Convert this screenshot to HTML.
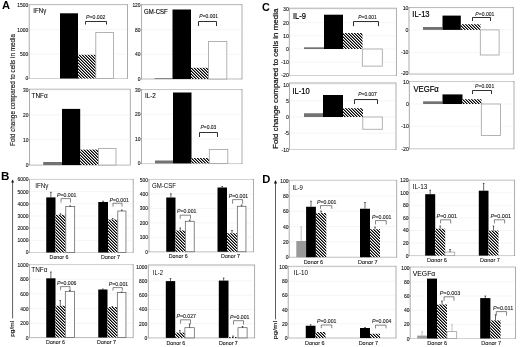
<!DOCTYPE html>
<html><head><meta charset="utf-8"><style>
html,body{margin:0;padding:0;background:#fff;}
svg{display:block;font-family:"Liberation Sans", sans-serif;filter:grayscale(1);}
</style></head><body>
<svg width="520" height="347" viewBox="0 0 520 347">
<defs>
<pattern id="hatch" patternUnits="userSpaceOnUse" width="3" height="3">
<rect width="3" height="3" fill="#fff"/>
<rect x="0" y="0" width="1" height="1" fill="#000"/><rect x="1" y="1" width="1" height="1" fill="#000"/><rect x="2" y="2" width="1" height="1" fill="#000"/>
<rect x="1" y="0" width="1" height="1" fill="#777"/><rect x="2" y="1" width="1" height="1" fill="#777"/><rect x="0" y="2" width="1" height="1" fill="#777"/>
</pattern>
</defs>
<rect width="520" height="347" fill="#fff"/>
<text x="1.9" y="9.1" font-size="11.2" text-anchor="start" font-weight="bold" fill="#000" >A</text>
<text x="0.9" y="179.9" font-size="11.6" text-anchor="start" font-weight="bold" fill="#000" >B</text>
<text x="262.0" y="11.0" font-size="10.8" text-anchor="start" font-weight="bold" fill="#000" >C</text>
<text x="262.3" y="183.4" font-size="11.2" text-anchor="start" font-weight="bold" fill="#000" >D</text>
<text x="0" y="0" font-size="6.34" text-anchor="middle" fill="#111" stroke="#111" stroke-width="0.12" transform="translate(12.6,90) rotate(-90) scale(1,1.0)" dominant-baseline="central">Fold change compared to cells in media</text>
<text x="0" y="0" font-size="7.95" text-anchor="middle" fill="#111" stroke="#111" stroke-width="0.22" transform="translate(275.6,78.8) rotate(-90) scale(1,1.0)" dominant-baseline="central">Fold change compared to cells in media</text>
<line x1="12.6" y1="181.5" x2="12.6" y2="318.4" stroke="#333" stroke-width="0.8"/>
<path d="M11.1,182.5 L12.6,179.4 L14.1,182.5 Z" fill="#111"/>
<text x="0" y="0" font-size="6.5" text-anchor="middle" fill="#111" stroke="#111" stroke-width="0.18" transform="translate(12.3,328.8) rotate(-90) scale(1,0.8)" dominant-baseline="central">pg/ml</text>
<line x1="275.5" y1="182.3" x2="275.5" y2="319.4" stroke="#333" stroke-width="0.8"/>
<path d="M273.9,183.4 L275.5,179.9 L277.1,183.4 Z" fill="#111"/>
<text x="0" y="0" font-size="7.6" text-anchor="middle" fill="#111" stroke="#111" stroke-width="0.18" transform="translate(274.7,330.2) rotate(-90) scale(1,0.8)" dominant-baseline="central">pg/ml</text>
<rect x="29.2" y="4.6" width="98.3" height="73.9" fill="#fff" stroke="#a4a4a4" stroke-width="0.9"/>
<line x1="27.7" y1="78.5" x2="29.2" y2="78.5" stroke="#a4a4a4" stroke-width="0.6"/>
<line x1="29.7" y1="78.5" x2="126.5" y2="78.5" stroke="#efefef" stroke-width="0.6"/>
<text x="0" y="0" font-size="4.9" text-anchor="end" fill="#111" stroke="#111" stroke-width="0.1" transform="translate(28.15,80.46) scale(1,1.12)">0</text>
<line x1="27.7" y1="54.03333333333333" x2="29.2" y2="54.03333333333333" stroke="#a4a4a4" stroke-width="0.6"/>
<line x1="29.7" y1="54.03333333333333" x2="126.5" y2="54.03333333333333" stroke="#efefef" stroke-width="0.6"/>
<text x="0" y="0" font-size="4.9" text-anchor="end" fill="#111" stroke="#111" stroke-width="0.1" transform="translate(28.15,56.00) scale(1,1.12)">500</text>
<line x1="27.7" y1="29.566666666666663" x2="29.2" y2="29.566666666666663" stroke="#a4a4a4" stroke-width="0.6"/>
<line x1="29.7" y1="29.566666666666663" x2="126.5" y2="29.566666666666663" stroke="#efefef" stroke-width="0.6"/>
<text x="0" y="0" font-size="4.9" text-anchor="end" fill="#111" stroke="#111" stroke-width="0.1" transform="translate(28.15,31.53) scale(1,1.12)">1000</text>
<line x1="27.7" y1="5.099999999999994" x2="29.2" y2="5.099999999999994" stroke="#a4a4a4" stroke-width="0.6"/>
<line x1="29.7" y1="5.099999999999994" x2="126.5" y2="5.099999999999994" stroke="#efefef" stroke-width="0.6"/>
<text x="0" y="0" font-size="4.9" text-anchor="end" fill="#111" stroke="#111" stroke-width="0.1" transform="translate(28.15,7.06) scale(1,1.12)">1500</text>
<text x="0" y="0" font-size="6.2" fill="#000" stroke="#000" stroke-width="0.06" transform="translate(33.2,13.0) scale(1,1.15)">IFNγ</text>
<rect x="60.00" y="13.30" width="18.00" height="65.20" fill="#000"/>
<rect x="78.00" y="54.80" width="18.20" height="23.70" fill="url(#hatch)"/>
<rect x="95.80" y="32.50" width="17.60" height="46.00" fill="#fff" stroke="#a0a0a0" stroke-width="0.8"/>
<text x="0" y="0" font-size="5.2" text-anchor="start" fill="#111" stroke="#111" stroke-width="0.08" transform="translate(86,18.8) scale(1,1.12)"><tspan font-style="italic">P</tspan>=0.002</text>
<path d="M85.5,24.5 L85.5,21.5 L106.5,21.5 L106.5,24.5" fill="none" stroke="#1a1a1a" stroke-width="0.9"/>
<rect x="141.6" y="4.6" width="100.4" height="74.4" fill="#fff" stroke="#a4a4a4" stroke-width="0.9"/>
<line x1="140.1" y1="79.0" x2="141.6" y2="79.0" stroke="#a4a4a4" stroke-width="0.6"/>
<line x1="142.1" y1="79.0" x2="241" y2="79.0" stroke="#efefef" stroke-width="0.6"/>
<text x="0" y="0" font-size="4.9" text-anchor="end" fill="#111" stroke="#111" stroke-width="0.1" transform="translate(140.55,80.96) scale(1,1.12)">0</text>
<line x1="140.1" y1="54.4" x2="141.6" y2="54.4" stroke="#a4a4a4" stroke-width="0.6"/>
<line x1="142.1" y1="54.4" x2="241" y2="54.4" stroke="#efefef" stroke-width="0.6"/>
<text x="0" y="0" font-size="4.9" text-anchor="end" fill="#111" stroke="#111" stroke-width="0.1" transform="translate(140.55,56.36) scale(1,1.12)">40</text>
<line x1="140.1" y1="29.799999999999997" x2="141.6" y2="29.799999999999997" stroke="#a4a4a4" stroke-width="0.6"/>
<line x1="142.1" y1="29.799999999999997" x2="241" y2="29.799999999999997" stroke="#efefef" stroke-width="0.6"/>
<text x="0" y="0" font-size="4.9" text-anchor="end" fill="#111" stroke="#111" stroke-width="0.1" transform="translate(140.55,31.76) scale(1,1.12)">80</text>
<line x1="140.1" y1="5.200000000000003" x2="141.6" y2="5.200000000000003" stroke="#a4a4a4" stroke-width="0.6"/>
<line x1="142.1" y1="5.200000000000003" x2="241" y2="5.200000000000003" stroke="#efefef" stroke-width="0.6"/>
<text x="0" y="0" font-size="4.9" text-anchor="end" fill="#111" stroke="#111" stroke-width="0.1" transform="translate(140.55,7.16) scale(1,1.12)">120</text>
<text x="0" y="0" font-size="6.0" fill="#000" stroke="#000" stroke-width="0.12" transform="translate(144,14) scale(1,1.15)">GM-CSF</text>
<rect x="154.50" y="78.20" width="18.00" height="0.80" fill="#727272"/>
<rect x="172.50" y="9.50" width="18.50" height="69.50" fill="#000"/>
<rect x="191.00" y="67.80" width="17.80" height="11.20" fill="url(#hatch)"/>
<rect x="208.60" y="41.40" width="18.20" height="37.60" fill="#fff" stroke="#a0a0a0" stroke-width="0.8"/>
<text x="0" y="0" font-size="5.0" text-anchor="start" fill="#111" stroke="#111" stroke-width="0.08" transform="translate(199.3,17.7) scale(1,1.12)"><tspan font-style="italic">P</tspan>=0.001</text>
<path d="M198.5,26.0 L198.5,21.5 L216.5,21.5 L216.5,26.0" fill="none" stroke="#1a1a1a" stroke-width="0.9"/>
<rect x="29.5" y="89.2" width="100.80000000000001" height="75.8" fill="#fff" stroke="#a4a4a4" stroke-width="0.9"/>
<line x1="28.0" y1="164.6" x2="29.5" y2="164.6" stroke="#a4a4a4" stroke-width="0.6"/>
<line x1="30.0" y1="164.6" x2="129.3" y2="164.6" stroke="#efefef" stroke-width="0.6"/>
<text x="0" y="0" font-size="4.9" text-anchor="end" fill="#111" stroke="#111" stroke-width="0.1" transform="translate(28.45,166.56) scale(1,1.12)">0</text>
<line x1="28.0" y1="139.73333333333332" x2="29.5" y2="139.73333333333332" stroke="#a4a4a4" stroke-width="0.6"/>
<line x1="30.0" y1="139.73333333333332" x2="129.3" y2="139.73333333333332" stroke="#efefef" stroke-width="0.6"/>
<text x="0" y="0" font-size="4.9" text-anchor="end" fill="#111" stroke="#111" stroke-width="0.1" transform="translate(28.45,141.70) scale(1,1.12)">10</text>
<line x1="28.0" y1="114.86666666666667" x2="29.5" y2="114.86666666666667" stroke="#a4a4a4" stroke-width="0.6"/>
<line x1="30.0" y1="114.86666666666667" x2="129.3" y2="114.86666666666667" stroke="#efefef" stroke-width="0.6"/>
<text x="0" y="0" font-size="4.9" text-anchor="end" fill="#111" stroke="#111" stroke-width="0.1" transform="translate(28.45,116.83) scale(1,1.12)">20</text>
<line x1="28.0" y1="90.0" x2="29.5" y2="90.0" stroke="#a4a4a4" stroke-width="0.6"/>
<line x1="30.0" y1="90.0" x2="129.3" y2="90.0" stroke="#efefef" stroke-width="0.6"/>
<text x="0" y="0" font-size="4.9" text-anchor="end" fill="#111" stroke="#111" stroke-width="0.1" transform="translate(28.45,91.96) scale(1,1.12)">30</text>
<text x="0" y="0" font-size="6.4" fill="#000" stroke="#000" stroke-width="0.06" transform="translate(31.6,97.7) scale(1,1.15)">TNFα</text>
<rect x="43.20" y="162.00" width="18.80" height="3.00" fill="#727272"/>
<rect x="62.00" y="108.90" width="18.20" height="56.10" fill="#000"/>
<rect x="80.20" y="149.60" width="18.40" height="15.40" fill="url(#hatch)"/>
<rect x="98.50" y="148.40" width="17.50" height="16.60" fill="#fff" stroke="#a0a0a0" stroke-width="0.8"/>
<rect x="141.5" y="89.5" width="100.5" height="74.1" fill="#fff" stroke="#a4a4a4" stroke-width="0.9"/>
<line x1="140.0" y1="163.4" x2="141.5" y2="163.4" stroke="#a4a4a4" stroke-width="0.6"/>
<line x1="142.0" y1="163.4" x2="241" y2="163.4" stroke="#efefef" stroke-width="0.6"/>
<text x="0" y="0" font-size="4.9" text-anchor="end" fill="#111" stroke="#111" stroke-width="0.1" transform="translate(140.45,165.36) scale(1,1.12)">0</text>
<line x1="140.0" y1="138.86666666666667" x2="141.5" y2="138.86666666666667" stroke="#a4a4a4" stroke-width="0.6"/>
<line x1="142.0" y1="138.86666666666667" x2="241" y2="138.86666666666667" stroke="#efefef" stroke-width="0.6"/>
<text x="0" y="0" font-size="4.9" text-anchor="end" fill="#111" stroke="#111" stroke-width="0.1" transform="translate(140.45,140.83) scale(1,1.12)">10</text>
<line x1="140.0" y1="114.33333333333334" x2="141.5" y2="114.33333333333334" stroke="#a4a4a4" stroke-width="0.6"/>
<line x1="142.0" y1="114.33333333333334" x2="241" y2="114.33333333333334" stroke="#efefef" stroke-width="0.6"/>
<text x="0" y="0" font-size="4.9" text-anchor="end" fill="#111" stroke="#111" stroke-width="0.1" transform="translate(140.45,116.30) scale(1,1.12)">20</text>
<line x1="140.0" y1="89.80000000000001" x2="141.5" y2="89.80000000000001" stroke="#a4a4a4" stroke-width="0.6"/>
<line x1="142.0" y1="89.80000000000001" x2="241" y2="89.80000000000001" stroke="#efefef" stroke-width="0.6"/>
<text x="0" y="0" font-size="4.9" text-anchor="end" fill="#111" stroke="#111" stroke-width="0.1" transform="translate(140.45,91.76) scale(1,1.12)">30</text>
<text x="0" y="0" font-size="6.3" fill="#000" stroke="#000" stroke-width="0.08" transform="translate(145,98) scale(1,1.15)">IL-2</text>
<rect x="155.00" y="160.50" width="18.00" height="2.90" fill="#727272"/>
<rect x="173.00" y="92.50" width="18.50" height="70.90" fill="#000"/>
<rect x="191.50" y="158.00" width="18.00" height="5.40" fill="url(#hatch)"/>
<rect x="209.30" y="149.50" width="18.50" height="13.90" fill="#fff" stroke="#a0a0a0" stroke-width="0.8"/>
<text x="0" y="0" font-size="5.0" text-anchor="start" fill="#111" stroke="#111" stroke-width="0.08" transform="translate(200.4,128.6) scale(1,1.12)"><tspan font-style="italic">P</tspan>=0.03</text>
<path d="M199.5,137.0 L199.5,132.5 L217.5,132.5 L217.5,137.0" fill="none" stroke="#1a1a1a" stroke-width="0.9"/>
<rect x="289.3" y="8.2" width="107.09999999999997" height="67.3" fill="#fff" stroke="#a4a4a4" stroke-width="0.9"/>
<line x1="289.8" y1="9.400000000000006" x2="395.4" y2="9.400000000000006" stroke="#efefef" stroke-width="0.6"/>
<text x="0" y="0" font-size="5.2" text-anchor="end" fill="#111" stroke="#111" stroke-width="0.1" transform="translate(288.80,11.48) scale(1,1.12)">30</text>
<line x1="289.8" y1="22.6" x2="395.4" y2="22.6" stroke="#efefef" stroke-width="0.6"/>
<text x="0" y="0" font-size="5.2" text-anchor="end" fill="#111" stroke="#111" stroke-width="0.1" transform="translate(288.80,24.68) scale(1,1.12)">20</text>
<line x1="289.8" y1="35.8" x2="395.4" y2="35.8" stroke="#efefef" stroke-width="0.6"/>
<text x="0" y="0" font-size="5.2" text-anchor="end" fill="#111" stroke="#111" stroke-width="0.1" transform="translate(288.80,37.88) scale(1,1.12)">10</text>
<line x1="289.8" y1="49.0" x2="395.4" y2="49.0" stroke="#efefef" stroke-width="0.6"/>
<text x="0" y="0" font-size="5.2" text-anchor="end" fill="#111" stroke="#111" stroke-width="0.1" transform="translate(288.80,51.08) scale(1,1.12)">0</text>
<line x1="289.8" y1="62.2" x2="395.4" y2="62.2" stroke="#efefef" stroke-width="0.6"/>
<text x="0" y="0" font-size="5.2" text-anchor="end" fill="#111" stroke="#111" stroke-width="0.1" transform="translate(288.80,64.28) scale(1,1.12)">-10</text>
<line x1="289.8" y1="75.4" x2="395.4" y2="75.4" stroke="#efefef" stroke-width="0.6"/>
<text x="0" y="0" font-size="5.2" text-anchor="end" fill="#111" stroke="#111" stroke-width="0.1" transform="translate(288.80,77.48) scale(1,1.12)">-20</text>
<text x="0" y="0" font-size="7.6" fill="#000" stroke="#000" stroke-width="0.18" transform="translate(293,18.6) scale(1,1.15)">IL-9</text>
<rect x="304.00" y="47.30" width="20.00" height="1.70" fill="#727272"/>
<rect x="324.00" y="14.70" width="19.00" height="34.30" fill="#000"/>
<rect x="343.00" y="33.00" width="19.50" height="16.00" fill="url(#hatch)"/>
<rect x="362.30" y="49.00" width="20.00" height="17.10" fill="#fff" stroke="#a0a0a0" stroke-width="0.8"/>
<text x="0" y="0" font-size="4.9" text-anchor="start" fill="#111" stroke="#111" stroke-width="0.08" transform="translate(358.3,19.0) scale(1,1.12)"><tspan font-style="italic">P</tspan>=0.001</text>
<path d="M353.5,26.2 L353.5,21.5 L378.5,21.5 L378.5,26.2" fill="none" stroke="#1a1a1a" stroke-width="0.9"/>
<rect x="409" y="7.5" width="104.29999999999995" height="66.5" fill="#fff" stroke="#a4a4a4" stroke-width="0.9"/>
<line x1="409.5" y1="8.1" x2="512.3" y2="8.1" stroke="#efefef" stroke-width="0.6"/>
<text x="0" y="0" font-size="5.2" text-anchor="end" fill="#111" stroke="#111" stroke-width="0.1" transform="translate(408.50,10.18) scale(1,1.12)">10</text>
<line x1="409.5" y1="29.9" x2="512.3" y2="29.9" stroke="#efefef" stroke-width="0.6"/>
<text x="0" y="0" font-size="5.2" text-anchor="end" fill="#111" stroke="#111" stroke-width="0.1" transform="translate(408.50,31.98) scale(1,1.12)">0</text>
<line x1="409.5" y1="52.4" x2="512.3" y2="52.4" stroke="#efefef" stroke-width="0.6"/>
<text x="0" y="0" font-size="5.2" text-anchor="end" fill="#111" stroke="#111" stroke-width="0.1" transform="translate(408.50,54.48) scale(1,1.12)">-10</text>
<line x1="409.5" y1="73.2" x2="512.3" y2="73.2" stroke="#efefef" stroke-width="0.6"/>
<text x="0" y="0" font-size="5.2" text-anchor="end" fill="#111" stroke="#111" stroke-width="0.1" transform="translate(408.50,75.28) scale(1,1.12)">-20</text>
<text x="0" y="0" font-size="7.6" fill="#000" stroke="#000" stroke-width="0.18" transform="translate(412.3,16.6) scale(1,1.15)">IL-13</text>
<rect x="423.00" y="27.00" width="19.50" height="2.90" fill="#727272"/>
<rect x="442.50" y="15.60" width="18.30" height="14.30" fill="#000"/>
<rect x="461.00" y="24.20" width="19.50" height="5.70" fill="url(#hatch)"/>
<rect x="480.30" y="29.90" width="18.80" height="25.10" fill="#fff" stroke="#a0a0a0" stroke-width="0.8"/>
<text x="0" y="0" font-size="5.1" text-anchor="start" fill="#111" stroke="#111" stroke-width="0.08" transform="translate(475.3,15.6) scale(1,1.12)"><tspan font-style="italic">P</tspan>=0.001</text>
<path d="M472.5,21 L472.5,17.5 L490.5,17.5 L490.5,21" fill="none" stroke="#1a1a1a" stroke-width="0.9"/>
<rect x="289.5" y="83" width="106.5" height="66.5" fill="#fff" stroke="#a4a4a4" stroke-width="0.9"/>
<line x1="290.0" y1="84.5" x2="395" y2="84.5" stroke="#efefef" stroke-width="0.6"/>
<text x="0" y="0" font-size="5.2" text-anchor="end" fill="#111" stroke="#111" stroke-width="0.1" transform="translate(289.00,86.58) scale(1,1.12)">10</text>
<line x1="290.0" y1="100.75" x2="395" y2="100.75" stroke="#efefef" stroke-width="0.6"/>
<text x="0" y="0" font-size="5.2" text-anchor="end" fill="#111" stroke="#111" stroke-width="0.1" transform="translate(289.00,102.83) scale(1,1.12)">5</text>
<line x1="290.0" y1="117.0" x2="395" y2="117.0" stroke="#efefef" stroke-width="0.6"/>
<text x="0" y="0" font-size="5.2" text-anchor="end" fill="#111" stroke="#111" stroke-width="0.1" transform="translate(289.00,119.08) scale(1,1.12)">0</text>
<line x1="290.0" y1="133.25" x2="395" y2="133.25" stroke="#efefef" stroke-width="0.6"/>
<text x="0" y="0" font-size="5.2" text-anchor="end" fill="#111" stroke="#111" stroke-width="0.1" transform="translate(289.00,135.33) scale(1,1.12)">-5</text>
<line x1="290.0" y1="149.5" x2="395" y2="149.5" stroke="#efefef" stroke-width="0.6"/>
<text x="0" y="0" font-size="5.2" text-anchor="end" fill="#111" stroke="#111" stroke-width="0.1" transform="translate(289.00,151.58) scale(1,1.12)">-10</text>
<text x="0" y="0" font-size="7.6" fill="#000" stroke="#000" stroke-width="0.18" transform="translate(292.5,93.6) scale(1,1.15)">IL-10</text>
<rect x="304.00" y="113.25" width="19.00" height="3.75" fill="#727272"/>
<rect x="323.00" y="95.00" width="20.00" height="22.00" fill="#000"/>
<rect x="343.00" y="108.20" width="20.00" height="8.80" fill="url(#hatch)"/>
<rect x="362.80" y="117.00" width="19.50" height="12.25" fill="#fff" stroke="#a0a0a0" stroke-width="0.8"/>
<text x="0" y="0" font-size="4.9" text-anchor="start" fill="#111" stroke="#111" stroke-width="0.08" transform="translate(358.3,96.0) scale(1,1.12)"><tspan font-style="italic">P</tspan>=0.007</text>
<path d="M354.5,104 L354.5,99.5 L377.5,99.5 L377.5,104" fill="none" stroke="#1a1a1a" stroke-width="0.9"/>
<rect x="409.3" y="81.5" width="104.69999999999999" height="67.25" fill="#fff" stroke="#a4a4a4" stroke-width="0.9"/>
<line x1="409.8" y1="81.7" x2="513" y2="81.7" stroke="#efefef" stroke-width="0.6"/>
<text x="0" y="0" font-size="5.2" text-anchor="end" fill="#111" stroke="#111" stroke-width="0.1" transform="translate(408.80,83.78) scale(1,1.12)">10</text>
<line x1="409.8" y1="104.0" x2="513" y2="104.0" stroke="#efefef" stroke-width="0.6"/>
<text x="0" y="0" font-size="5.2" text-anchor="end" fill="#111" stroke="#111" stroke-width="0.1" transform="translate(408.80,106.08) scale(1,1.12)">0</text>
<line x1="409.8" y1="126.3" x2="513" y2="126.3" stroke="#efefef" stroke-width="0.6"/>
<text x="0" y="0" font-size="5.2" text-anchor="end" fill="#111" stroke="#111" stroke-width="0.1" transform="translate(408.80,128.38) scale(1,1.12)">-10</text>
<line x1="409.8" y1="148.6" x2="513" y2="148.6" stroke="#efefef" stroke-width="0.6"/>
<text x="0" y="0" font-size="5.2" text-anchor="end" fill="#111" stroke="#111" stroke-width="0.1" transform="translate(408.80,150.68) scale(1,1.12)">-20</text>
<text x="0" y="0" font-size="7.7" fill="#000" stroke="#000" stroke-width="0.18" transform="translate(413.4,91.9) scale(1,1.15)">VEGFα</text>
<rect x="423.10" y="101.30" width="19.40" height="2.70" fill="#727272"/>
<rect x="442.50" y="94.40" width="20.00" height="9.60" fill="#000"/>
<rect x="462.40" y="99.20" width="19.10" height="4.80" fill="url(#hatch)"/>
<rect x="481.30" y="104.00" width="19.20" height="31.40" fill="#fff" stroke="#a0a0a0" stroke-width="0.8"/>
<text x="0" y="0" font-size="5.1" text-anchor="start" fill="#111" stroke="#111" stroke-width="0.08" transform="translate(475.1,88.3) scale(1,1.12)"><tspan font-style="italic">P</tspan>=0.001</text>
<path d="M472.5,94.0 L472.5,90.5 L491.5,90.5 L491.5,94.0" fill="none" stroke="#1a1a1a" stroke-width="0.9"/>
<rect x="29.5" y="179.4" width="103.69999999999999" height="73.1" fill="#fff" stroke="#a4a4a4" stroke-width="0.9"/>
<line x1="28.0" y1="252.5" x2="29.5" y2="252.5" stroke="#a4a4a4" stroke-width="0.6"/>
<line x1="30.0" y1="252.5" x2="132.2" y2="252.5" stroke="#efefef" stroke-width="0.6"/>
<text x="0" y="0" font-size="4.9" text-anchor="end" fill="#111" stroke="#111" stroke-width="0.1" transform="translate(28.45,254.46) scale(1,1.12)">0</text>
<line x1="28.0" y1="240.33333333333334" x2="29.5" y2="240.33333333333334" stroke="#a4a4a4" stroke-width="0.6"/>
<line x1="30.0" y1="240.33333333333334" x2="132.2" y2="240.33333333333334" stroke="#efefef" stroke-width="0.6"/>
<text x="0" y="0" font-size="4.9" text-anchor="end" fill="#111" stroke="#111" stroke-width="0.1" transform="translate(28.45,242.30) scale(1,1.12)">1000</text>
<line x1="28.0" y1="228.16666666666666" x2="29.5" y2="228.16666666666666" stroke="#a4a4a4" stroke-width="0.6"/>
<line x1="30.0" y1="228.16666666666666" x2="132.2" y2="228.16666666666666" stroke="#efefef" stroke-width="0.6"/>
<text x="0" y="0" font-size="4.9" text-anchor="end" fill="#111" stroke="#111" stroke-width="0.1" transform="translate(28.45,230.13) scale(1,1.12)">2000</text>
<line x1="28.0" y1="216.0" x2="29.5" y2="216.0" stroke="#a4a4a4" stroke-width="0.6"/>
<line x1="30.0" y1="216.0" x2="132.2" y2="216.0" stroke="#efefef" stroke-width="0.6"/>
<text x="0" y="0" font-size="4.9" text-anchor="end" fill="#111" stroke="#111" stroke-width="0.1" transform="translate(28.45,217.96) scale(1,1.12)">3000</text>
<line x1="28.0" y1="203.83333333333334" x2="29.5" y2="203.83333333333334" stroke="#a4a4a4" stroke-width="0.6"/>
<line x1="30.0" y1="203.83333333333334" x2="132.2" y2="203.83333333333334" stroke="#efefef" stroke-width="0.6"/>
<text x="0" y="0" font-size="4.9" text-anchor="end" fill="#111" stroke="#111" stroke-width="0.1" transform="translate(28.45,205.80) scale(1,1.12)">4000</text>
<line x1="28.0" y1="191.66666666666669" x2="29.5" y2="191.66666666666669" stroke="#a4a4a4" stroke-width="0.6"/>
<line x1="30.0" y1="191.66666666666669" x2="132.2" y2="191.66666666666669" stroke="#efefef" stroke-width="0.6"/>
<text x="0" y="0" font-size="4.9" text-anchor="end" fill="#111" stroke="#111" stroke-width="0.1" transform="translate(28.45,193.63) scale(1,1.12)">5000</text>
<line x1="28.0" y1="179.5" x2="29.5" y2="179.5" stroke="#a4a4a4" stroke-width="0.6"/>
<line x1="30.0" y1="179.5" x2="132.2" y2="179.5" stroke="#efefef" stroke-width="0.6"/>
<text x="0" y="0" font-size="4.9" text-anchor="end" fill="#111" stroke="#111" stroke-width="0.1" transform="translate(28.45,181.46) scale(1,1.12)">6000</text>
<text x="0" y="0" font-size="6.3" fill="#000" stroke="#000" stroke-width="0.0" transform="translate(35.2,187.6) scale(1,1.15)">IFNγ</text>
<rect x="46.25" y="197.40" width="9.25" height="55.10" fill="#000"/>
<line x1="50.875" y1="197.4" x2="50.875" y2="192.3" stroke="#000" stroke-width="0.6"/>
<line x1="50.075" y1="192.3" x2="51.675" y2="192.3" stroke="#000" stroke-width="0.6"/>
<rect x="55.50" y="214.80" width="10.00" height="37.70" fill="url(#hatch)"/>
<line x1="60.5" y1="214.8" x2="60.5" y2="213.8" stroke="#000" stroke-width="0.6"/>
<line x1="59.7" y1="213.8" x2="61.3" y2="213.8" stroke="#000" stroke-width="0.6"/>
<rect x="65.80" y="206.50" width="8.90" height="46.00" fill="#fff" stroke="#555" stroke-width="0.7"/>
<line x1="70.25" y1="206.5" x2="70.25" y2="205.8" stroke="#000" stroke-width="0.6"/>
<line x1="69.45" y1="205.8" x2="71.05" y2="205.8" stroke="#000" stroke-width="0.6"/>
<text x="0" y="0" font-size="5.2" text-anchor="start" fill="#111" stroke="#111" stroke-width="0.08" transform="translate(57,197) scale(1,1.12)"><tspan font-style="italic">P</tspan>=0.001</text>
<path d="M61,202.5 L61,198.6 L70.5,198.6 L70.5,202.5" fill="none" stroke="#333" stroke-width="0.6"/>
<rect x="98.25" y="202.00" width="9.75" height="50.50" fill="#000"/>
<line x1="103.125" y1="202" x2="103.125" y2="201.2" stroke="#000" stroke-width="0.6"/>
<line x1="102.325" y1="201.2" x2="103.925" y2="201.2" stroke="#000" stroke-width="0.6"/>
<rect x="108.00" y="219.50" width="9.50" height="33.00" fill="url(#hatch)"/>
<line x1="112.75" y1="219.5" x2="112.75" y2="218.5" stroke="#000" stroke-width="0.6"/>
<line x1="111.95" y1="218.5" x2="113.55" y2="218.5" stroke="#000" stroke-width="0.6"/>
<rect x="117.80" y="211.00" width="8.15" height="41.50" fill="#fff" stroke="#555" stroke-width="0.7"/>
<line x1="121.875" y1="211" x2="121.875" y2="210" stroke="#000" stroke-width="0.6"/>
<line x1="121.075" y1="210" x2="122.675" y2="210" stroke="#000" stroke-width="0.6"/>
<text x="0" y="0" font-size="5.2" text-anchor="start" fill="#111" stroke="#111" stroke-width="0.08" transform="translate(109.5,201.6) scale(1,1.12)"><tspan font-style="italic">P</tspan>=0.001</text>
<path d="M113,206.6 L113,203.2 L122,203.2 L122,206.6" fill="none" stroke="#333" stroke-width="0.6"/>
<text x="0" y="0" font-size="5.3" text-anchor="middle" fill="#111" stroke="#111" stroke-width="0.08" transform="translate(59,258.5) scale(1,1.12)">Donor 6</text>
<text x="0" y="0" font-size="5.3" text-anchor="middle" fill="#111" stroke="#111" stroke-width="0.08" transform="translate(110.5,258.5) scale(1,1.12)">Donor 7</text>
<rect x="149" y="179.5" width="104.5" height="72.30000000000001" fill="#fff" stroke="#a4a4a4" stroke-width="0.9"/>
<line x1="147.5" y1="251.75" x2="149" y2="251.75" stroke="#a4a4a4" stroke-width="0.6"/>
<line x1="149.5" y1="251.75" x2="252.5" y2="251.75" stroke="#efefef" stroke-width="0.6"/>
<text x="0" y="0" font-size="4.9" text-anchor="end" fill="#111" stroke="#111" stroke-width="0.1" transform="translate(147.95,253.71) scale(1,1.12)">0</text>
<line x1="147.5" y1="237.31" x2="149" y2="237.31" stroke="#a4a4a4" stroke-width="0.6"/>
<line x1="149.5" y1="237.31" x2="252.5" y2="237.31" stroke="#efefef" stroke-width="0.6"/>
<text x="0" y="0" font-size="4.9" text-anchor="end" fill="#111" stroke="#111" stroke-width="0.1" transform="translate(147.95,239.27) scale(1,1.12)">100</text>
<line x1="147.5" y1="222.87" x2="149" y2="222.87" stroke="#a4a4a4" stroke-width="0.6"/>
<line x1="149.5" y1="222.87" x2="252.5" y2="222.87" stroke="#efefef" stroke-width="0.6"/>
<text x="0" y="0" font-size="4.9" text-anchor="end" fill="#111" stroke="#111" stroke-width="0.1" transform="translate(147.95,224.83) scale(1,1.12)">200</text>
<line x1="147.5" y1="208.43" x2="149" y2="208.43" stroke="#a4a4a4" stroke-width="0.6"/>
<line x1="149.5" y1="208.43" x2="252.5" y2="208.43" stroke="#efefef" stroke-width="0.6"/>
<text x="0" y="0" font-size="4.9" text-anchor="end" fill="#111" stroke="#111" stroke-width="0.1" transform="translate(147.95,210.39) scale(1,1.12)">300</text>
<line x1="147.5" y1="193.99" x2="149" y2="193.99" stroke="#a4a4a4" stroke-width="0.6"/>
<line x1="149.5" y1="193.99" x2="252.5" y2="193.99" stroke="#efefef" stroke-width="0.6"/>
<text x="0" y="0" font-size="4.9" text-anchor="end" fill="#111" stroke="#111" stroke-width="0.1" transform="translate(147.95,195.95) scale(1,1.12)">400</text>
<line x1="147.5" y1="179.55" x2="149" y2="179.55" stroke="#a4a4a4" stroke-width="0.6"/>
<line x1="149.5" y1="179.55" x2="252.5" y2="179.55" stroke="#efefef" stroke-width="0.6"/>
<text x="0" y="0" font-size="4.9" text-anchor="end" fill="#111" stroke="#111" stroke-width="0.1" transform="translate(147.95,181.51) scale(1,1.12)">500</text>
<text x="0" y="0" font-size="6.1" fill="#000" stroke="#000" stroke-width="0.0" transform="translate(152,188) scale(1,1.15)">GM-CSF</text>
<rect x="166.25" y="197.50" width="9.25" height="54.25" fill="#000"/>
<line x1="170.875" y1="197.5" x2="170.875" y2="193.75" stroke="#000" stroke-width="0.6"/>
<line x1="170.075" y1="193.75" x2="171.675" y2="193.75" stroke="#000" stroke-width="0.6"/>
<rect x="175.50" y="230.50" width="9.50" height="21.25" fill="url(#hatch)"/>
<line x1="180.25" y1="230.5" x2="180.25" y2="228" stroke="#000" stroke-width="0.6"/>
<line x1="179.45" y1="228" x2="181.05" y2="228" stroke="#000" stroke-width="0.6"/>
<rect x="185.30" y="221.25" width="8.90" height="30.50" fill="#fff" stroke="#555" stroke-width="0.7"/>
<line x1="189.75" y1="221.25" x2="189.75" y2="220" stroke="#000" stroke-width="0.6"/>
<line x1="188.95" y1="220" x2="190.55" y2="220" stroke="#000" stroke-width="0.6"/>
<text x="0" y="0" font-size="5.2" text-anchor="start" fill="#111" stroke="#111" stroke-width="0.08" transform="translate(177,213.2) scale(1,1.12)"><tspan font-style="italic">P</tspan>=0.001</text>
<path d="M180.2,218.8 L180.2,215.2 L190.5,215.2 L190.5,218.8" fill="none" stroke="#333" stroke-width="0.6"/>
<rect x="217.50" y="187.50" width="9.50" height="64.25" fill="#000"/>
<line x1="222.25" y1="187.5" x2="222.25" y2="186.5" stroke="#000" stroke-width="0.6"/>
<line x1="221.45" y1="186.5" x2="223.05" y2="186.5" stroke="#000" stroke-width="0.6"/>
<rect x="227.00" y="233.25" width="10.00" height="18.50" fill="url(#hatch)"/>
<line x1="232.0" y1="233.25" x2="232.0" y2="230.5" stroke="#000" stroke-width="0.6"/>
<line x1="231.2" y1="230.5" x2="232.8" y2="230.5" stroke="#000" stroke-width="0.6"/>
<rect x="237.30" y="206.25" width="8.65" height="45.50" fill="#fff" stroke="#555" stroke-width="0.7"/>
<line x1="241.625" y1="206.25" x2="241.625" y2="205" stroke="#000" stroke-width="0.6"/>
<line x1="240.825" y1="205" x2="242.425" y2="205" stroke="#000" stroke-width="0.6"/>
<text x="0" y="0" font-size="5.2" text-anchor="start" fill="#111" stroke="#111" stroke-width="0.08" transform="translate(228.75,198.2) scale(1,1.12)"><tspan font-style="italic">P</tspan>=0.001</text>
<path d="M232.6,203.8 L232.6,199.6 L242.6,199.6 L242.6,203.8" fill="none" stroke="#333" stroke-width="0.6"/>
<text x="0" y="0" font-size="5.3" text-anchor="middle" fill="#111" stroke="#111" stroke-width="0.08" transform="translate(178.2,258.4) scale(1,1.12)">Donor 6</text>
<text x="0" y="0" font-size="5.3" text-anchor="middle" fill="#111" stroke="#111" stroke-width="0.08" transform="translate(230.5,258.4) scale(1,1.12)">Donor 7</text>
<rect x="29.5" y="264.6" width="103.69999999999999" height="72.89999999999998" fill="#fff" stroke="#a4a4a4" stroke-width="0.9"/>
<line x1="28.0" y1="338.0" x2="29.5" y2="338.0" stroke="#a4a4a4" stroke-width="0.6"/>
<line x1="30.0" y1="338.0" x2="132.2" y2="338.0" stroke="#efefef" stroke-width="0.6"/>
<text x="0" y="0" font-size="4.9" text-anchor="end" fill="#111" stroke="#111" stroke-width="0.1" transform="translate(28.45,339.96) scale(1,1.12)">0</text>
<line x1="28.0" y1="323.32" x2="29.5" y2="323.32" stroke="#a4a4a4" stroke-width="0.6"/>
<line x1="30.0" y1="323.32" x2="132.2" y2="323.32" stroke="#efefef" stroke-width="0.6"/>
<text x="0" y="0" font-size="4.9" text-anchor="end" fill="#111" stroke="#111" stroke-width="0.1" transform="translate(28.45,325.28) scale(1,1.12)">200</text>
<line x1="28.0" y1="308.64" x2="29.5" y2="308.64" stroke="#a4a4a4" stroke-width="0.6"/>
<line x1="30.0" y1="308.64" x2="132.2" y2="308.64" stroke="#efefef" stroke-width="0.6"/>
<text x="0" y="0" font-size="4.9" text-anchor="end" fill="#111" stroke="#111" stroke-width="0.1" transform="translate(28.45,310.60) scale(1,1.12)">400</text>
<line x1="28.0" y1="293.96" x2="29.5" y2="293.96" stroke="#a4a4a4" stroke-width="0.6"/>
<line x1="30.0" y1="293.96" x2="132.2" y2="293.96" stroke="#efefef" stroke-width="0.6"/>
<text x="0" y="0" font-size="4.9" text-anchor="end" fill="#111" stroke="#111" stroke-width="0.1" transform="translate(28.45,295.92) scale(1,1.12)">600</text>
<line x1="28.0" y1="279.28" x2="29.5" y2="279.28" stroke="#a4a4a4" stroke-width="0.6"/>
<line x1="30.0" y1="279.28" x2="132.2" y2="279.28" stroke="#efefef" stroke-width="0.6"/>
<text x="0" y="0" font-size="4.9" text-anchor="end" fill="#111" stroke="#111" stroke-width="0.1" transform="translate(28.45,281.24) scale(1,1.12)">800</text>
<line x1="28.0" y1="264.6" x2="29.5" y2="264.6" stroke="#a4a4a4" stroke-width="0.6"/>
<line x1="30.0" y1="264.6" x2="132.2" y2="264.6" stroke="#efefef" stroke-width="0.6"/>
<text x="0" y="0" font-size="4.9" text-anchor="end" fill="#111" stroke="#111" stroke-width="0.1" transform="translate(28.45,266.56) scale(1,1.12)">1000</text>
<text x="0" y="0" font-size="6.4" fill="#000" stroke="#000" stroke-width="0.0" transform="translate(31.3,271.8) scale(1,1.15)">TNFα</text>
<rect x="46.25" y="278.30" width="9.25" height="59.20" fill="#000"/>
<line x1="50.875" y1="278.3" x2="50.875" y2="272" stroke="#000" stroke-width="0.6"/>
<line x1="50.075" y1="272" x2="51.675" y2="272" stroke="#000" stroke-width="0.6"/>
<rect x="55.50" y="305.75" width="9.50" height="31.75" fill="url(#hatch)"/>
<line x1="60.25" y1="305.75" x2="60.25" y2="300.5" stroke="#000" stroke-width="0.6"/>
<line x1="59.45" y1="300.5" x2="61.05" y2="300.5" stroke="#000" stroke-width="0.6"/>
<rect x="65.30" y="291.30" width="9.10" height="46.20" fill="#fff" stroke="#555" stroke-width="0.7"/>
<line x1="69.85" y1="291.3" x2="69.85" y2="290.5" stroke="#000" stroke-width="0.6"/>
<line x1="69.05" y1="290.5" x2="70.64999999999999" y2="290.5" stroke="#000" stroke-width="0.6"/>
<text x="0" y="0" font-size="5.2" text-anchor="start" fill="#111" stroke="#111" stroke-width="0.08" transform="translate(57,285) scale(1,1.12)"><tspan font-style="italic">P</tspan>=0.006</text>
<path d="M60.6,290.2 L60.6,286.6 L70.0,286.6 L70.0,290.2" fill="none" stroke="#333" stroke-width="0.6"/>
<rect x="98.25" y="289.50" width="9.25" height="48.00" fill="#000"/>
<line x1="102.875" y1="289.5" x2="102.875" y2="289" stroke="#000" stroke-width="0.6"/>
<line x1="102.075" y1="289" x2="103.675" y2="289" stroke="#000" stroke-width="0.6"/>
<rect x="107.50" y="307.00" width="9.50" height="30.50" fill="url(#hatch)"/>
<line x1="112.25" y1="307" x2="112.25" y2="306.5" stroke="#000" stroke-width="0.6"/>
<line x1="111.45" y1="306.5" x2="113.05" y2="306.5" stroke="#000" stroke-width="0.6"/>
<rect x="117.30" y="292.50" width="8.65" height="45.00" fill="#fff" stroke="#555" stroke-width="0.7"/>
<line x1="121.625" y1="292.5" x2="121.625" y2="292" stroke="#000" stroke-width="0.6"/>
<line x1="120.825" y1="292" x2="122.425" y2="292" stroke="#000" stroke-width="0.6"/>
<text x="0" y="0" font-size="5.2" text-anchor="start" fill="#111" stroke="#111" stroke-width="0.08" transform="translate(108.75,285.7) scale(1,1.12)"><tspan font-style="italic">P</tspan>=0.001</text>
<path d="M113,290.6 L113,287.6 L122.4,287.6 L122.4,290.6" fill="none" stroke="#333" stroke-width="0.6"/>
<text x="0" y="0" font-size="5.3" text-anchor="middle" fill="#111" stroke="#111" stroke-width="0.08" transform="translate(55.5,343.9) scale(1,1.12)">Donor 6</text>
<text x="0" y="0" font-size="5.3" text-anchor="middle" fill="#111" stroke="#111" stroke-width="0.08" transform="translate(106.5,343.9) scale(1,1.12)">Donor 7</text>
<rect x="148.3" y="265" width="106.29999999999998" height="72.89999999999998" fill="#fff" stroke="#a4a4a4" stroke-width="0.9"/>
<line x1="146.8" y1="337.9" x2="148.3" y2="337.9" stroke="#a4a4a4" stroke-width="0.6"/>
<line x1="148.8" y1="337.9" x2="253.6" y2="337.9" stroke="#efefef" stroke-width="0.6"/>
<text x="0" y="0" font-size="4.9" text-anchor="end" fill="#111" stroke="#111" stroke-width="0.1" transform="translate(147.25,339.86) scale(1,1.12)">0</text>
<line x1="146.8" y1="323.67999999999995" x2="148.3" y2="323.67999999999995" stroke="#a4a4a4" stroke-width="0.6"/>
<line x1="148.8" y1="323.67999999999995" x2="253.6" y2="323.67999999999995" stroke="#efefef" stroke-width="0.6"/>
<text x="0" y="0" font-size="4.9" text-anchor="end" fill="#111" stroke="#111" stroke-width="0.1" transform="translate(147.25,325.64) scale(1,1.12)">200</text>
<line x1="146.8" y1="309.46" x2="148.3" y2="309.46" stroke="#a4a4a4" stroke-width="0.6"/>
<line x1="148.8" y1="309.46" x2="253.6" y2="309.46" stroke="#efefef" stroke-width="0.6"/>
<text x="0" y="0" font-size="4.9" text-anchor="end" fill="#111" stroke="#111" stroke-width="0.1" transform="translate(147.25,311.42) scale(1,1.12)">400</text>
<line x1="146.8" y1="295.24" x2="148.3" y2="295.24" stroke="#a4a4a4" stroke-width="0.6"/>
<line x1="148.8" y1="295.24" x2="253.6" y2="295.24" stroke="#efefef" stroke-width="0.6"/>
<text x="0" y="0" font-size="4.9" text-anchor="end" fill="#111" stroke="#111" stroke-width="0.1" transform="translate(147.25,297.20) scale(1,1.12)">600</text>
<line x1="146.8" y1="281.02" x2="148.3" y2="281.02" stroke="#a4a4a4" stroke-width="0.6"/>
<line x1="148.8" y1="281.02" x2="253.6" y2="281.02" stroke="#efefef" stroke-width="0.6"/>
<text x="0" y="0" font-size="4.9" text-anchor="end" fill="#111" stroke="#111" stroke-width="0.1" transform="translate(147.25,282.98) scale(1,1.12)">800</text>
<line x1="146.8" y1="266.79999999999995" x2="148.3" y2="266.79999999999995" stroke="#a4a4a4" stroke-width="0.6"/>
<line x1="148.8" y1="266.79999999999995" x2="253.6" y2="266.79999999999995" stroke="#efefef" stroke-width="0.6"/>
<text x="0" y="0" font-size="4.9" text-anchor="end" fill="#111" stroke="#111" stroke-width="0.1" transform="translate(147.25,268.76) scale(1,1.12)">1000</text>
<text x="0" y="0" font-size="5.9" fill="#000" stroke="#000" stroke-width="0.0" transform="translate(152.8,275) scale(1,1.15)">IL-2</text>
<rect x="165.80" y="281.10" width="9.40" height="56.80" fill="#000"/>
<line x1="170.5" y1="281.1" x2="170.5" y2="278.5" stroke="#000" stroke-width="0.6"/>
<line x1="169.7" y1="278.5" x2="171.3" y2="278.5" stroke="#000" stroke-width="0.6"/>
<rect x="175.20" y="332.60" width="9.40" height="5.30" fill="url(#hatch)"/>
<line x1="179.89999999999998" y1="332.6" x2="179.89999999999998" y2="330.5" stroke="#000" stroke-width="0.6"/>
<line x1="179.09999999999997" y1="330.5" x2="180.7" y2="330.5" stroke="#000" stroke-width="0.6"/>
<rect x="184.90" y="327.70" width="9.40" height="10.20" fill="#fff" stroke="#555" stroke-width="0.7"/>
<line x1="189.6" y1="327.7" x2="189.6" y2="324" stroke="#000" stroke-width="0.6"/>
<line x1="188.79999999999998" y1="324" x2="190.4" y2="324" stroke="#000" stroke-width="0.6"/>
<text x="0" y="0" font-size="5.2" text-anchor="start" fill="#111" stroke="#111" stroke-width="0.08" transform="translate(176.5,318.4) scale(1,1.12)"><tspan font-style="italic">P</tspan>=0.027</text>
<path d="M180.6,323.7 L180.6,319.8 L190.5,319.8 L190.5,323.7" fill="none" stroke="#333" stroke-width="0.6"/>
<rect x="218.80" y="280.60" width="9.70" height="57.30" fill="#000"/>
<line x1="223.65" y1="280.6" x2="223.65" y2="278" stroke="#000" stroke-width="0.6"/>
<line x1="222.85" y1="278" x2="224.45000000000002" y2="278" stroke="#000" stroke-width="0.6"/>
<rect x="228.50" y="337.00" width="9.20" height="0.90" fill="url(#hatch)"/>
<line x1="233.1" y1="337" x2="233.1" y2="336" stroke="#000" stroke-width="0.6"/>
<line x1="232.29999999999998" y1="336" x2="233.9" y2="336" stroke="#000" stroke-width="0.6"/>
<rect x="238.00" y="327.70" width="9.10" height="10.20" fill="#fff" stroke="#555" stroke-width="0.7"/>
<line x1="242.55" y1="327.7" x2="242.55" y2="326.5" stroke="#000" stroke-width="0.6"/>
<line x1="241.75" y1="326.5" x2="243.35000000000002" y2="326.5" stroke="#000" stroke-width="0.6"/>
<text x="0" y="0" font-size="5.2" text-anchor="start" fill="#111" stroke="#111" stroke-width="0.08" transform="translate(230.0,319.0) scale(1,1.12)"><tspan font-style="italic">P</tspan>=0.001</text>
<path d="M233.5,324.5 L233.5,320.7 L243.5,320.7 L243.5,324.5" fill="none" stroke="#333" stroke-width="0.6"/>
<text x="0" y="0" font-size="5.3" text-anchor="middle" fill="#111" stroke="#111" stroke-width="0.08" transform="translate(175.9,345.2) scale(1,1.12)">Donor 6</text>
<text x="0" y="0" font-size="5.3" text-anchor="middle" fill="#111" stroke="#111" stroke-width="0.08" transform="translate(228.4,345.2) scale(1,1.12)">Donor 7</text>
<rect x="289.2" y="180.3" width="107.5" height="77.0" fill="#fff" stroke="#a4a4a4" stroke-width="0.9"/>
<line x1="287.7" y1="257.2" x2="289.2" y2="257.2" stroke="#a4a4a4" stroke-width="0.6"/>
<line x1="289.7" y1="257.2" x2="395.7" y2="257.2" stroke="#efefef" stroke-width="0.6"/>
<text x="0" y="0" font-size="5.0" text-anchor="end" fill="#111" stroke="#111" stroke-width="0.1" transform="translate(288.60,259.20) scale(1,1.12)">0</text>
<line x1="287.7" y1="241.88" x2="289.2" y2="241.88" stroke="#a4a4a4" stroke-width="0.6"/>
<line x1="289.7" y1="241.88" x2="395.7" y2="241.88" stroke="#efefef" stroke-width="0.6"/>
<text x="0" y="0" font-size="5.0" text-anchor="end" fill="#111" stroke="#111" stroke-width="0.1" transform="translate(288.60,243.88) scale(1,1.12)">20</text>
<line x1="287.7" y1="226.56" x2="289.2" y2="226.56" stroke="#a4a4a4" stroke-width="0.6"/>
<line x1="289.7" y1="226.56" x2="395.7" y2="226.56" stroke="#efefef" stroke-width="0.6"/>
<text x="0" y="0" font-size="5.0" text-anchor="end" fill="#111" stroke="#111" stroke-width="0.1" transform="translate(288.60,228.56) scale(1,1.12)">40</text>
<line x1="287.7" y1="211.24" x2="289.2" y2="211.24" stroke="#a4a4a4" stroke-width="0.6"/>
<line x1="289.7" y1="211.24" x2="395.7" y2="211.24" stroke="#efefef" stroke-width="0.6"/>
<text x="0" y="0" font-size="5.0" text-anchor="end" fill="#111" stroke="#111" stroke-width="0.1" transform="translate(288.60,213.24) scale(1,1.12)">60</text>
<line x1="287.7" y1="195.92" x2="289.2" y2="195.92" stroke="#a4a4a4" stroke-width="0.6"/>
<line x1="289.7" y1="195.92" x2="395.7" y2="195.92" stroke="#efefef" stroke-width="0.6"/>
<text x="0" y="0" font-size="5.0" text-anchor="end" fill="#111" stroke="#111" stroke-width="0.1" transform="translate(288.60,197.92) scale(1,1.12)">80</text>
<line x1="287.7" y1="180.6" x2="289.2" y2="180.6" stroke="#a4a4a4" stroke-width="0.6"/>
<line x1="289.7" y1="180.6" x2="395.7" y2="180.6" stroke="#efefef" stroke-width="0.6"/>
<text x="0" y="0" font-size="5.0" text-anchor="end" fill="#111" stroke="#111" stroke-width="0.1" transform="translate(288.60,182.60) scale(1,1.12)">100</text>
<text x="0" y="0" font-size="6.0" fill="#000" stroke="#000" stroke-width="0.0" transform="translate(292.5,190) scale(1,1.15)">IL-9</text>
<rect x="296.30" y="241.00" width="9.80" height="16.20" fill="#999"/>
<line x1="301.20000000000005" y1="241" x2="301.20000000000005" y2="227" stroke="#999" stroke-width="0.6"/>
<line x1="300.40000000000003" y1="227" x2="302.00000000000006" y2="227" stroke="#999" stroke-width="0.6"/>
<rect x="306.10" y="206.75" width="9.80" height="50.45" fill="#000"/>
<line x1="311.0" y1="206.75" x2="311.0" y2="201.25" stroke="#000" stroke-width="0.6"/>
<line x1="310.2" y1="201.25" x2="311.8" y2="201.25" stroke="#000" stroke-width="0.6"/>
<rect x="315.90" y="213.00" width="10.40" height="44.20" fill="url(#hatch)"/>
<line x1="321.1" y1="213" x2="321.1" y2="211" stroke="#000" stroke-width="0.6"/>
<line x1="320.3" y1="211" x2="321.90000000000003" y2="211" stroke="#000" stroke-width="0.6"/>
<text x="0" y="0" font-size="5.2" text-anchor="start" fill="#111" stroke="#111" stroke-width="0.08" transform="translate(317,203.6) scale(1,1.12)"><tspan font-style="italic">P</tspan>=0.001</text>
<path d="M320.5,208.8 L320.5,205.6 L331.75,205.6 L331.75,208.8" fill="none" stroke="#333" stroke-width="0.6"/>
<rect x="360.00" y="208.75" width="10.00" height="48.45" fill="#000"/>
<line x1="365.0" y1="208.75" x2="365.0" y2="202.5" stroke="#000" stroke-width="0.6"/>
<line x1="364.2" y1="202.5" x2="365.8" y2="202.5" stroke="#000" stroke-width="0.6"/>
<rect x="370.00" y="229.25" width="10.00" height="27.95" fill="url(#hatch)"/>
<line x1="375.0" y1="229.25" x2="375.0" y2="227" stroke="#000" stroke-width="0.6"/>
<line x1="374.2" y1="227" x2="375.8" y2="227" stroke="#000" stroke-width="0.6"/>
<text x="0" y="0" font-size="5.2" text-anchor="start" fill="#111" stroke="#111" stroke-width="0.08" transform="translate(372,218.6) scale(1,1.12)"><tspan font-style="italic">P</tspan>=0.001</text>
<path d="M375.5,224.5 L375.5,220.6 L386.25,220.6 L386.25,224.5" fill="none" stroke="#333" stroke-width="0.6"/>
<text x="0" y="0" font-size="5.5" text-anchor="middle" fill="#111" stroke="#111" stroke-width="0.08" transform="translate(313.4,264.0) scale(1,1.12)">Donor 6</text>
<text x="0" y="0" font-size="5.5" text-anchor="middle" fill="#111" stroke="#111" stroke-width="0.08" transform="translate(367.8,264.0) scale(1,1.12)">Donor 7</text>
<rect x="409.1" y="180.2" width="105.5" height="75.4" fill="#fff" stroke="#a4a4a4" stroke-width="0.9"/>
<line x1="407.6" y1="255.6" x2="409.1" y2="255.6" stroke="#a4a4a4" stroke-width="0.6"/>
<line x1="409.6" y1="255.6" x2="513.6" y2="255.6" stroke="#efefef" stroke-width="0.6"/>
<text x="0" y="0" font-size="5.0" text-anchor="end" fill="#111" stroke="#111" stroke-width="0.1" transform="translate(408.50,257.60) scale(1,1.12)">0</text>
<line x1="407.6" y1="243.03333333333333" x2="409.1" y2="243.03333333333333" stroke="#a4a4a4" stroke-width="0.6"/>
<line x1="409.6" y1="243.03333333333333" x2="513.6" y2="243.03333333333333" stroke="#efefef" stroke-width="0.6"/>
<text x="0" y="0" font-size="5.0" text-anchor="end" fill="#111" stroke="#111" stroke-width="0.1" transform="translate(408.50,245.04) scale(1,1.12)">20</text>
<line x1="407.6" y1="230.46666666666667" x2="409.1" y2="230.46666666666667" stroke="#a4a4a4" stroke-width="0.6"/>
<line x1="409.6" y1="230.46666666666667" x2="513.6" y2="230.46666666666667" stroke="#efefef" stroke-width="0.6"/>
<text x="0" y="0" font-size="5.0" text-anchor="end" fill="#111" stroke="#111" stroke-width="0.1" transform="translate(408.50,232.47) scale(1,1.12)">40</text>
<line x1="407.6" y1="217.89999999999998" x2="409.1" y2="217.89999999999998" stroke="#a4a4a4" stroke-width="0.6"/>
<line x1="409.6" y1="217.89999999999998" x2="513.6" y2="217.89999999999998" stroke="#efefef" stroke-width="0.6"/>
<text x="0" y="0" font-size="5.0" text-anchor="end" fill="#111" stroke="#111" stroke-width="0.1" transform="translate(408.50,219.90) scale(1,1.12)">60</text>
<line x1="407.6" y1="205.33333333333331" x2="409.1" y2="205.33333333333331" stroke="#a4a4a4" stroke-width="0.6"/>
<line x1="409.6" y1="205.33333333333331" x2="513.6" y2="205.33333333333331" stroke="#efefef" stroke-width="0.6"/>
<text x="0" y="0" font-size="5.0" text-anchor="end" fill="#111" stroke="#111" stroke-width="0.1" transform="translate(408.50,207.34) scale(1,1.12)">80</text>
<line x1="407.6" y1="192.76666666666665" x2="409.1" y2="192.76666666666665" stroke="#a4a4a4" stroke-width="0.6"/>
<line x1="409.6" y1="192.76666666666665" x2="513.6" y2="192.76666666666665" stroke="#efefef" stroke-width="0.6"/>
<text x="0" y="0" font-size="5.0" text-anchor="end" fill="#111" stroke="#111" stroke-width="0.1" transform="translate(408.50,194.77) scale(1,1.12)">100</text>
<line x1="407.6" y1="180.2" x2="409.1" y2="180.2" stroke="#a4a4a4" stroke-width="0.6"/>
<line x1="409.6" y1="180.2" x2="513.6" y2="180.2" stroke="#efefef" stroke-width="0.6"/>
<text x="0" y="0" font-size="5.0" text-anchor="end" fill="#111" stroke="#111" stroke-width="0.1" transform="translate(408.50,182.20) scale(1,1.12)">120</text>
<text x="0" y="0" font-size="6.4" fill="#000" stroke="#000" stroke-width="0.0" transform="translate(412.8,189) scale(1,1.15)">IL-13</text>
<rect x="425.20" y="194.20" width="10.00" height="61.40" fill="#000"/>
<line x1="430.2" y1="194.2" x2="430.2" y2="190.2" stroke="#000" stroke-width="0.6"/>
<line x1="429.4" y1="190.2" x2="431.0" y2="190.2" stroke="#000" stroke-width="0.6"/>
<rect x="435.20" y="228.70" width="10.00" height="26.90" fill="url(#hatch)"/>
<line x1="440.2" y1="228.7" x2="440.2" y2="226" stroke="#000" stroke-width="0.6"/>
<line x1="439.4" y1="226" x2="441.0" y2="226" stroke="#000" stroke-width="0.6"/>
<rect x="445.00" y="252.10" width="9.70" height="3.50" fill="#fff" stroke="#a0a0a0" stroke-width="0.8"/>
<line x1="450.04999999999995" y1="252.1" x2="450.04999999999995" y2="249.5" stroke="#000" stroke-width="0.6"/>
<line x1="449.24999999999994" y1="249.5" x2="450.84999999999997" y2="249.5" stroke="#000" stroke-width="0.6"/>
<text x="0" y="0" font-size="5.5" text-anchor="start" fill="#111" stroke="#111" stroke-width="0.08" transform="translate(436.5,218.2) scale(1,1.12)"><tspan font-style="italic">P</tspan>=0.001</text>
<path d="M440.6,223.4 L440.6,219.8 L450.7,219.8 L450.7,223.4" fill="none" stroke="#333" stroke-width="0.6"/>
<rect x="478.80" y="190.70" width="9.70" height="64.90" fill="#000"/>
<line x1="483.65" y1="190.7" x2="483.65" y2="183.5" stroke="#000" stroke-width="0.6"/>
<line x1="482.84999999999997" y1="183.5" x2="484.45" y2="183.5" stroke="#000" stroke-width="0.6"/>
<rect x="488.50" y="230.60" width="10.00" height="25.00" fill="url(#hatch)"/>
<line x1="493.5" y1="230.6" x2="493.5" y2="226" stroke="#000" stroke-width="0.6"/>
<line x1="492.7" y1="226" x2="494.3" y2="226" stroke="#000" stroke-width="0.6"/>
<text x="0" y="0" font-size="5.5" text-anchor="start" fill="#111" stroke="#111" stroke-width="0.08" transform="translate(490.4,218.2) scale(1,1.12)"><tspan font-style="italic">P</tspan>=0.001</text>
<path d="M494.4,223.4 L494.4,219.8 L504.6,219.8 L504.6,223.4" fill="none" stroke="#333" stroke-width="0.6"/>
<text x="0" y="0" font-size="5.6" text-anchor="middle" fill="#111" stroke="#111" stroke-width="0.08" transform="translate(437,262.4) scale(1,1.12)">Donor 6</text>
<text x="0" y="0" font-size="5.6" text-anchor="middle" fill="#111" stroke="#111" stroke-width="0.08" transform="translate(490,262.4) scale(1,1.12)">Donor 7</text>
<rect x="288.2" y="266.3" width="107.80000000000001" height="71.69999999999999" fill="#fff" stroke="#a4a4a4" stroke-width="0.9"/>
<line x1="286.7" y1="338.0" x2="288.2" y2="338.0" stroke="#a4a4a4" stroke-width="0.6"/>
<line x1="288.7" y1="338.0" x2="395" y2="338.0" stroke="#efefef" stroke-width="0.6"/>
<text x="0" y="0" font-size="5.0" text-anchor="end" fill="#111" stroke="#111" stroke-width="0.1" transform="translate(287.60,340.00) scale(1,1.12)">0</text>
<line x1="286.7" y1="323.8" x2="288.2" y2="323.8" stroke="#a4a4a4" stroke-width="0.6"/>
<line x1="288.7" y1="323.8" x2="395" y2="323.8" stroke="#efefef" stroke-width="0.6"/>
<text x="0" y="0" font-size="5.0" text-anchor="end" fill="#111" stroke="#111" stroke-width="0.1" transform="translate(287.60,325.80) scale(1,1.12)">20</text>
<line x1="286.7" y1="309.6" x2="288.2" y2="309.6" stroke="#a4a4a4" stroke-width="0.6"/>
<line x1="288.7" y1="309.6" x2="395" y2="309.6" stroke="#efefef" stroke-width="0.6"/>
<text x="0" y="0" font-size="5.0" text-anchor="end" fill="#111" stroke="#111" stroke-width="0.1" transform="translate(287.60,311.60) scale(1,1.12)">40</text>
<line x1="286.7" y1="295.4" x2="288.2" y2="295.4" stroke="#a4a4a4" stroke-width="0.6"/>
<line x1="288.7" y1="295.4" x2="395" y2="295.4" stroke="#efefef" stroke-width="0.6"/>
<text x="0" y="0" font-size="5.0" text-anchor="end" fill="#111" stroke="#111" stroke-width="0.1" transform="translate(287.60,297.40) scale(1,1.12)">60</text>
<line x1="286.7" y1="281.2" x2="288.2" y2="281.2" stroke="#a4a4a4" stroke-width="0.6"/>
<line x1="288.7" y1="281.2" x2="395" y2="281.2" stroke="#efefef" stroke-width="0.6"/>
<text x="0" y="0" font-size="5.0" text-anchor="end" fill="#111" stroke="#111" stroke-width="0.1" transform="translate(287.60,283.20) scale(1,1.12)">80</text>
<line x1="286.7" y1="267.0" x2="288.2" y2="267.0" stroke="#a4a4a4" stroke-width="0.6"/>
<line x1="288.7" y1="267.0" x2="395" y2="267.0" stroke="#efefef" stroke-width="0.6"/>
<text x="0" y="0" font-size="5.0" text-anchor="end" fill="#111" stroke="#111" stroke-width="0.1" transform="translate(287.60,269.00) scale(1,1.12)">100</text>
<text x="0" y="0" font-size="6.3" fill="#000" stroke="#000" stroke-width="0.0" transform="translate(293.7,275) scale(1,1.15)">IL-10</text>
<rect x="305.75" y="325.75" width="9.75" height="12.25" fill="#000"/>
<line x1="310.625" y1="325.75" x2="310.625" y2="324.8" stroke="#000" stroke-width="0.6"/>
<line x1="309.825" y1="324.8" x2="311.425" y2="324.8" stroke="#000" stroke-width="0.6"/>
<rect x="315.50" y="332.00" width="10.00" height="6.00" fill="url(#hatch)"/>
<text x="0" y="0" font-size="5.2" text-anchor="start" fill="#111" stroke="#111" stroke-width="0.08" transform="translate(317,323.2) scale(1,1.12)"><tspan font-style="italic">P</tspan>=0.001</text>
<path d="M321.25,328.2 L321.25,325 L331.75,325 L331.75,328.2" fill="none" stroke="#333" stroke-width="0.6"/>
<rect x="360.00" y="328.00" width="10.00" height="10.00" fill="#000"/>
<line x1="365.0" y1="328" x2="365.0" y2="327.5" stroke="#000" stroke-width="0.6"/>
<line x1="364.2" y1="327.5" x2="365.8" y2="327.5" stroke="#000" stroke-width="0.6"/>
<rect x="370.00" y="333.75" width="10.00" height="4.25" fill="url(#hatch)"/>
<text x="0" y="0" font-size="5.2" text-anchor="start" fill="#111" stroke="#111" stroke-width="0.08" transform="translate(372,323.4) scale(1,1.12)"><tspan font-style="italic">P</tspan>=0.004</text>
<path d="M375.5,328.4 L375.5,325.2 L386,325.2 L386,328.4" fill="none" stroke="#333" stroke-width="0.6"/>
<text x="0" y="0" font-size="5.5" text-anchor="middle" fill="#111" stroke="#111" stroke-width="0.08" transform="translate(314.8,345.4) scale(1,1.12)">Donor 6</text>
<text x="0" y="0" font-size="5.5" text-anchor="middle" fill="#111" stroke="#111" stroke-width="0.08" transform="translate(368.4,345.4) scale(1,1.12)">Donor 7</text>
<rect x="410.2" y="267.1" width="105.30000000000001" height="71.39999999999998" fill="#fff" stroke="#a4a4a4" stroke-width="0.9"/>
<line x1="408.7" y1="338.5" x2="410.2" y2="338.5" stroke="#a4a4a4" stroke-width="0.6"/>
<line x1="410.7" y1="338.5" x2="514.5" y2="338.5" stroke="#efefef" stroke-width="0.6"/>
<text x="0" y="0" font-size="5.0" text-anchor="end" fill="#111" stroke="#111" stroke-width="0.1" transform="translate(409.60,340.50) scale(1,1.12)">0</text>
<line x1="408.7" y1="324.34" x2="410.2" y2="324.34" stroke="#a4a4a4" stroke-width="0.6"/>
<line x1="410.7" y1="324.34" x2="514.5" y2="324.34" stroke="#efefef" stroke-width="0.6"/>
<text x="0" y="0" font-size="5.0" text-anchor="end" fill="#111" stroke="#111" stroke-width="0.1" transform="translate(409.60,326.34) scale(1,1.12)">20</text>
<line x1="408.7" y1="310.18" x2="410.2" y2="310.18" stroke="#a4a4a4" stroke-width="0.6"/>
<line x1="410.7" y1="310.18" x2="514.5" y2="310.18" stroke="#efefef" stroke-width="0.6"/>
<text x="0" y="0" font-size="5.0" text-anchor="end" fill="#111" stroke="#111" stroke-width="0.1" transform="translate(409.60,312.18) scale(1,1.12)">40</text>
<line x1="408.7" y1="296.02" x2="410.2" y2="296.02" stroke="#a4a4a4" stroke-width="0.6"/>
<line x1="410.7" y1="296.02" x2="514.5" y2="296.02" stroke="#efefef" stroke-width="0.6"/>
<text x="0" y="0" font-size="5.0" text-anchor="end" fill="#111" stroke="#111" stroke-width="0.1" transform="translate(409.60,298.02) scale(1,1.12)">60</text>
<line x1="408.7" y1="281.86" x2="410.2" y2="281.86" stroke="#a4a4a4" stroke-width="0.6"/>
<line x1="410.7" y1="281.86" x2="514.5" y2="281.86" stroke="#efefef" stroke-width="0.6"/>
<text x="0" y="0" font-size="5.0" text-anchor="end" fill="#111" stroke="#111" stroke-width="0.1" transform="translate(409.60,283.86) scale(1,1.12)">80</text>
<line x1="408.7" y1="267.7" x2="410.2" y2="267.7" stroke="#a4a4a4" stroke-width="0.6"/>
<line x1="410.7" y1="267.7" x2="514.5" y2="267.7" stroke="#efefef" stroke-width="0.6"/>
<text x="0" y="0" font-size="5.0" text-anchor="end" fill="#111" stroke="#111" stroke-width="0.1" transform="translate(409.60,269.70) scale(1,1.12)">100</text>
<text x="0" y="0" font-size="6.8" fill="#000" stroke="#000" stroke-width="0.05" transform="translate(412.8,276.0) scale(1,1.15)">VEGFα</text>
<rect x="417.20" y="335.60" width="9.80" height="2.90" fill="#999"/>
<line x1="422.1" y1="335.6" x2="422.1" y2="331.7" stroke="#999" stroke-width="0.6"/>
<line x1="421.3" y1="331.7" x2="422.90000000000003" y2="331.7" stroke="#999" stroke-width="0.6"/>
<rect x="427.00" y="278.60" width="10.00" height="59.90" fill="#000"/>
<rect x="437.00" y="304.50" width="10.00" height="34.00" fill="url(#hatch)"/>
<line x1="442.0" y1="304.5" x2="442.0" y2="301.0" stroke="#000" stroke-width="0.6"/>
<line x1="441.2" y1="301.0" x2="442.8" y2="301.0" stroke="#000" stroke-width="0.6"/>
<rect x="447.00" y="331.60" width="9.70" height="6.90" fill="#fff" stroke="#a0a0a0" stroke-width="0.8"/>
<line x1="452.04999999999995" y1="331.6" x2="452.04999999999995" y2="324.8" stroke="#999" stroke-width="0.6"/>
<line x1="451.24999999999994" y1="324.8" x2="452.84999999999997" y2="324.8" stroke="#999" stroke-width="0.6"/>
<text x="0" y="0" font-size="5.5" text-anchor="start" fill="#111" stroke="#111" stroke-width="0.08" transform="translate(439.8,295.2) scale(1,1.12)"><tspan font-style="italic">P</tspan>=0.003</text>
<path d="M444.1,300.8 L444.1,296.8 L454,296.8 L454,300.8" fill="none" stroke="#333" stroke-width="0.6"/>
<rect x="480.20" y="298.10" width="10.20" height="40.40" fill="#000"/>
<line x1="485.29999999999995" y1="298.1" x2="485.29999999999995" y2="296" stroke="#000" stroke-width="0.6"/>
<line x1="484.49999999999994" y1="296" x2="486.09999999999997" y2="296" stroke="#000" stroke-width="0.6"/>
<rect x="490.40" y="320.40" width="10.20" height="18.10" fill="url(#hatch)"/>
<line x1="495.5" y1="320.4" x2="495.5" y2="314.8" stroke="#000" stroke-width="0.6"/>
<line x1="494.7" y1="314.8" x2="496.3" y2="314.8" stroke="#000" stroke-width="0.6"/>
<text x="0" y="0" font-size="5.5" text-anchor="start" fill="#111" stroke="#111" stroke-width="0.08" transform="translate(493.1,310) scale(1,1.12)"><tspan font-style="italic">P</tspan>=0.011</text>
<path d="M496.3,315.6 L496.3,311.6 L506.5,311.6 L506.5,315.6" fill="none" stroke="#333" stroke-width="0.6"/>
<text x="0" y="0" font-size="5.6" text-anchor="middle" fill="#111" stroke="#111" stroke-width="0.08" transform="translate(437.2,345.4) scale(1,1.12)">Donor 6</text>
<text x="0" y="0" font-size="5.6" text-anchor="middle" fill="#111" stroke="#111" stroke-width="0.08" transform="translate(491.2,345.4) scale(1,1.12)">Donor 7</text>
</svg></body></html>
